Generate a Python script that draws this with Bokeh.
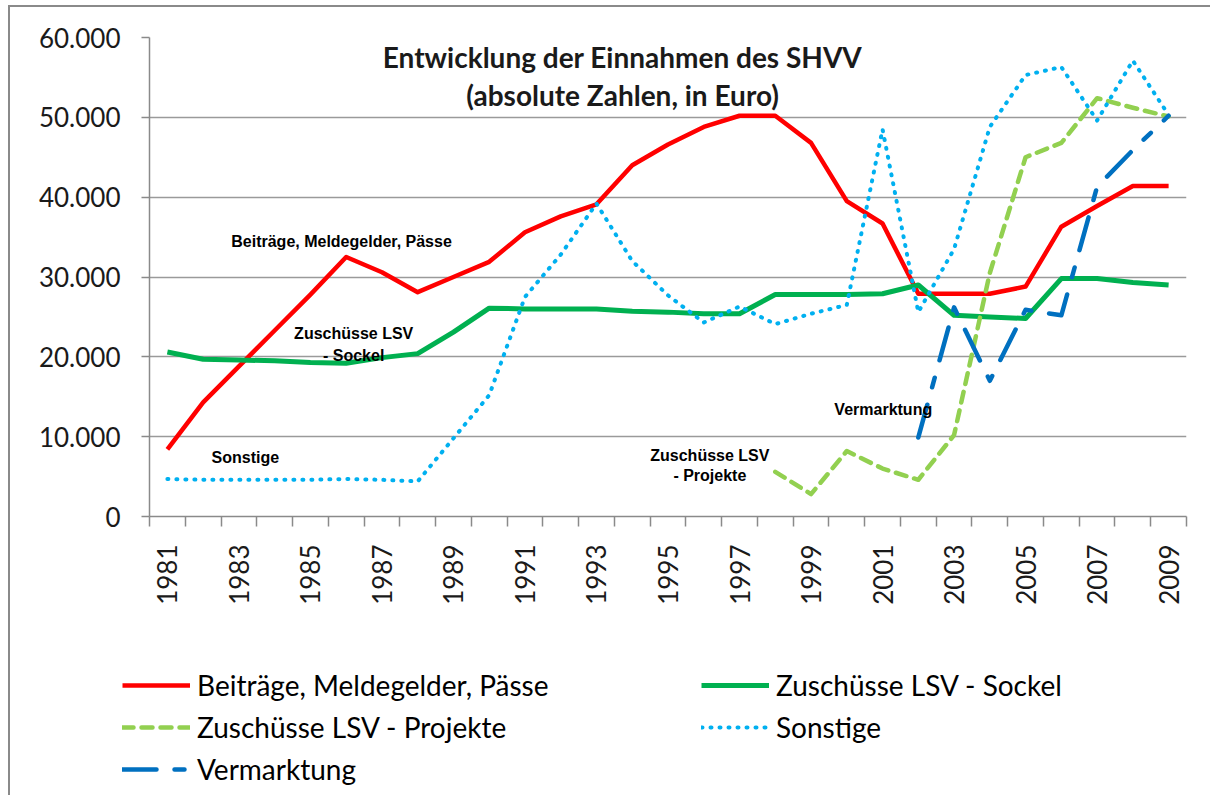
import math
from bokeh.plotting import figure
from bokeh.layouts import column
from bokeh.models import FixedTicker, Legend, LegendItem, Label
from bokeh.embed import file_html
from bokeh.resources import INLINE

nan = float("nan")

years = list(range(1981, 2010))
label_years = list(range(1981, 2010, 2))

beitraege = [8400, 14300, 18800, 23300, 27800, 32500, 30600, 28100, 30000, 31900,
             35600, 37600, 39100, 44000, 46600, 48800, 50200, 50200, 46800, 39500,
             36700, 27900, 27900, 27900, 28800, 36300, 38900, 41400, 41400]
sockel = [20600, 19700, 19600, 19500, 19300, 19200, 19900, 20400, 23100, 26100,
          26000, 26000, 26000, 25700, 25600, 25400, 25400, 27800, 27800, 27800,
          27900, 29000, 25200, 25000, 24800, 29800, 29800, 29300, 29000]
projekte = [nan] * 17 + [5600, 2800, 8200, 6000, 4600, 10200, 30500, 45000, 46800,
                         52400, 51200, 50100]
sonstige = [4700, 4600, 4600, 4600, 4600, 4700, 4600, 4400, 9800, 15200,
            27500, 32800, 39200, 32000, 27700, 24300, 26300, 24100, 25400, 26500,
            48500, 25600, 33500, 48800, 55300, 56300, 49600, 57100, 50300]
vermarktung = [nan] * 21 + [9900, 26200, 17000, 25900, 25200, 41300, 45900, 50200]

y_ticks = list(range(0, 60001, 10000))
y_labels = {v: (f"{v:,}".replace(",", ".")) for v in y_ticks}

series_names = ["Beiträge, Meldegelder, Pässe", "Zuschüsse LSV - Sockel",
                "Zuschüsse LSV - Projekte", "Sonstige", "Vermarktung"]
series_colors = ["#ff0000", "#00b050", "#92d050", "#00b0f0", "#0070c0"]
series_widths = [4.5, 5, 4.5, 4, 4.5]
series_dash = ["solid", "solid", "11 8", "1 8", "34 18 10 18"]
series_cap = ["butt", "butt", "round", "round", "round"]
series_values = [beitraege, sockel, projekte, sonstige, vermarktung]

p = figure(width=1200, height=613, x_range=(1980.5, 2009.5), y_range=(0, 60000),
           output_backend="svg", toolbar_location=None,
           min_border_left=139, min_border_right=24, min_border_top=30,
           min_border_bottom=104)
p.outline_line_color = None
p.background_fill_color = "white"
p.border_fill_color = "white"
p.xgrid.visible = False
p.ygrid.grid_line_color = "#9a9a9a"
p.ygrid.grid_line_width = 1.5
p.ygrid.ticker = FixedTicker(ticks=y_ticks)

AX = "#8a8a8a"
FONT = "Lato"

p.yaxis.ticker = FixedTicker(ticks=y_ticks)
p.yaxis.major_label_overrides = y_labels
p.yaxis.axis_line_color = AX
p.yaxis.axis_line_width = 1.5
p.yaxis.major_tick_line_color = AX
p.yaxis.major_tick_line_width = 1.5
p.yaxis.major_tick_out = 8
p.yaxis.major_tick_in = 0
p.yaxis.minor_tick_line_color = None
p.yaxis.major_label_text_font = FONT
p.yaxis.major_label_text_font_size = "26px"
p.yaxis.major_label_text_color = "#1a1a1a"
p.yaxis.major_label_standoff = 21

p.xaxis.ticker = FixedTicker(ticks=label_years,
                             minor_ticks=[y - 0.5 for y in years] + [years[-1] + 0.5])
p.xaxis.axis_line_color = AX
p.xaxis.axis_line_width = 1.5
p.xaxis.major_tick_line_color = None
p.xaxis.major_tick_out = 10
p.xaxis.major_tick_in = 0
p.xaxis.minor_tick_line_color = AX
p.xaxis.minor_tick_line_width = 1.5
p.xaxis.minor_tick_out = 10
p.xaxis.minor_tick_in = 0
p.xaxis.major_label_orientation = math.pi / 2
p.xaxis.major_label_text_font = FONT
p.xaxis.major_label_text_font_size = "26px"
p.xaxis.major_label_text_color = "#1a1a1a"
p.xaxis.major_label_standoff = 18

for vals, c, w, d, cap in zip(series_values, series_colors, series_widths, series_dash, series_cap):
    p.line(years, vals, line_color=c, line_width=w, line_dash=d, line_cap=cap,
           line_join="round")

title_kw = dict(text_font=FONT, text_font_size="28px", text_font_style="bold",
                text_align="center", text_baseline="middle", text_color="#1a1a1a")
p.add_layout(Label(x=1993.73, y=57600, text="Entwicklung der Einnahmen des SHVV", **title_kw))
p.add_layout(Label(x=1993.73, y=52800, text="(absolute Zahlen, in Euro)", **title_kw))

ann_kw = dict(text_font="Liberation Sans", text_font_size="16px", text_font_style="bold",
              text_align="center", text_baseline="middle", text_color="#000000")
annotations = [
    (1985.87, 34400, "Beiträge, Meldegelder, Pässe"),
    (1986.21, 22900, "Zuschüsse LSV"),
    (1986.21, 20200, "- Sockel"),
    (1983.18, 7390, "Sonstige"),
    (1996.17, 7640, "Zuschüsse LSV"),
    (1996.17, 5130, "- Projekte"),
    (2001.02, 13400, "Vermarktung"),
]
for ax, ay, t in annotations:
    p.add_layout(Label(x=ax, y=ay, text=t, **ann_kw))

# legend panel: a second figure below the chart; its series lie outside its
# (empty) view, only the legend shows
lp = figure(width=1200, height=175, output_backend="svg", toolbar_location=None,
            x_axis_type=None, y_axis_type=None, min_border=0,
            x_range=(1980.5, 2009.5), y_range=(-2, -1))
lp.frame_align = False
lp.outline_line_color = None
lp.grid.visible = False
lp.border_fill_color = "white"
leg_renderers = []
for vals, c, w, d, cap in zip(series_values, series_colors, series_widths, series_dash, series_cap):
    leg_renderers.append(lp.line(years, vals, line_color=c, line_width=w, line_dash=d,
                                 line_cap=cap, line_join="round"))

legend = Legend(items=[LegendItem(label=n, renderers=[r]) for n, r in zip(series_names, leg_renderers)],
                orientation="horizontal", ncols=2, location=(112, 9),
                glyph_width=68, glyph_height=30, label_height=30, label_width=496,
                spacing=8, padding=0, margin=0, border_line_color=None,
                background_fill_alpha=0, label_text_font=FONT, label_text_font_size="28px",
                label_text_color="#000000", label_standoff=7)
lp.add_layout(legend)

layout = column(p, lp, spacing=0,
                styles={"margin-left": "8px", "margin-top": "5px",
                        "border-left": "2px solid #8a8a8a",
                        "border-top": "2px solid #8a8a8a"})

open("out.html", "w").write(file_html(layout, INLINE))
